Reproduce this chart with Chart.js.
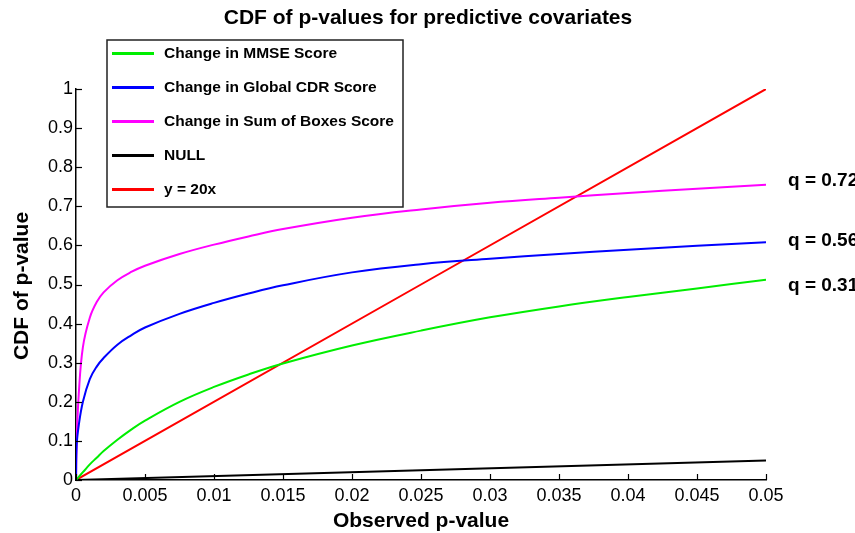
<!DOCTYPE html>
<html>
<head>
<meta charset="utf-8">
<script src="https://cdn.jsdelivr.net/npm/chart.js@4.4.1/dist/chart.umd.min.js"></script>
<style>
  body { margin: 0; background: #fff; }
  #wrap { width: 855px; height: 533px; position: relative; }
</style>
</head>
<body>
<div id="wrap"><canvas id="cdfChart"></canvas></div>
<script>
// p-value grid and CDF readings for each covariate
const pValues   = [0, 0.00005, 0.0002, 0.0005, 0.001, 0.0015, 0.002, 0.003, 0.004, 0.005, 0.0075, 0.01, 0.0125, 0.015, 0.02, 0.025, 0.03, 0.035, 0.04, 0.045, 0.05];
const mmse      = [0, 0.002, 0.008, 0.02, 0.04, 0.057, 0.074, 0.103, 0.129, 0.152, 0.2, 0.238, 0.27, 0.298, 0.344, 0.382, 0.416, 0.444, 0.468, 0.49, 0.512];
const globalCdr = [0, 0.09, 0.14, 0.2, 0.258, 0.29, 0.312, 0.346, 0.37, 0.39, 0.425, 0.453, 0.477, 0.498, 0.531, 0.552, 0.566, 0.578, 0.589, 0.599, 0.608];
const sumBoxes  = [0, 0.1, 0.22, 0.34, 0.415, 0.455, 0.48, 0.511, 0.532, 0.548, 0.578, 0.602, 0.623, 0.642, 0.671, 0.692, 0.709, 0.722, 0.734, 0.745, 0.755];
const nullX = [0, 0.05];
const nullY = [0, 0.05];
const refX  = [0, 0.05];
const refY  = [0, 1];

const seriesLabels = ["Change in MMSE Score", "Change in Global CDR Score", "Change in Sum of Boxes Score", "NULL", "y = 20x"];
const seriesColors = ["#00ee00", "#0000ff", "#ff00ff", "#000000", "#ff0000"];

const xTickValues = [0, 0.005, 0.01, 0.015, 0.02, 0.025, 0.03, 0.035, 0.04, 0.045, 0.05];
const xTickLabels = ["0", "0.005", "0.01", "0.015", "0.02", "0.025", "0.03", "0.035", "0.04", "0.045", "0.05"];
const yTickValues = [0, 0.1, 0.2, 0.3, 0.4, 0.5, 0.6, 0.7, 0.8, 0.9, 1];
const yTickLabels = ["0", "0.1", "0.2", "0.3", "0.4", "0.5", "0.6", "0.7", "0.8", "0.9", "1"];

// q-value notes at the right end of the curves
const qLabels = ["q = 0.72", "q = 0.56", "q = 0.31"];
const qY      = [0.766, 0.6125, 0.497];

const FONT = "'Liberation Sans', Arial, Helvetica, sans-serif";
Chart.defaults.font.family = FONT;

function toPoints(xs, ys) {
    return xs.map((x, i) => ({ x: x, y: ys[i] }));
}

let seriesData = [
    toPoints(pValues, mmse),
    toPoints(pValues, globalCdr),
    toPoints(pValues, sumBoxes),
    toPoints(nullX, nullY),
    toPoints(refX, refY)
];

let datasets = seriesData.map((pts, i) => ({
    label: seriesLabels[i],
    data: pts,
    borderColor: seriesColors[i],
    backgroundColor: seriesColors[i],
    borderWidth: 2,
    pointRadius: 0,
    tension: 0.4,
    fill: false
}));

// extra drawing: inward ticks, titles, boxed legend, q labels
const decorations = {
    id: "decorations",
    afterDraw(chart) {
        let ctx = chart.ctx;
        let area = chart.chartArea;
        let xs = chart.scales.x;
        let ys = chart.scales.y;
        ctx.save();

        ctx.strokeStyle = "#000";
        ctx.lineWidth = 1.2;
        xTickValues.forEach(v => {
            let px = Math.round(xs.getPixelForValue(v)) + 0.5;
            ctx.beginPath();
            ctx.moveTo(px, area.bottom);
            ctx.lineTo(px, area.bottom - 6);
            ctx.stroke();
        });
        yTickValues.forEach(v => {
            let py = Math.round(ys.getPixelForValue(v)) + 0.5;
            ctx.beginPath();
            ctx.moveTo(area.left, py);
            ctx.lineTo(area.left + 6, py);
            ctx.stroke();
        });

        ctx.fillStyle = "#000";
        ctx.textAlign = "center";
        ctx.textBaseline = "middle";
        ctx.font = "bold 21px " + FONT;
        ctx.fillText("CDF of p-values for predictive covariates", 428, 18);

        ctx.font = "bold 21px " + FONT;
        ctx.fillText("Observed p-value", 421, 521);
        ctx.save();
        ctx.translate(22, 286);
        ctx.rotate(-Math.PI / 2);
        ctx.fillText("CDF of p-value", 0, 0);
        ctx.restore();

        // legend box
        ctx.fillStyle = "#fff";
        ctx.fillRect(107, 40, 296, 167);
        ctx.strokeStyle = "#222";
        ctx.lineWidth = 1.5;
        ctx.strokeRect(107, 40, 296, 167);
        ctx.font = "bold 15.5px " + FONT;
        ctx.textAlign = "left";
        seriesLabels.forEach((lab, i) => {
            let y = 53.5 + i * 34;
            ctx.strokeStyle = seriesColors[i];
            ctx.lineWidth = 3;
            ctx.beginPath();
            ctx.moveTo(112, y);
            ctx.lineTo(154, y);
            ctx.stroke();
            ctx.fillStyle = "#000";
            ctx.fillText(lab, 164, y);
        });

        ctx.font = "bold 19px " + FONT;
        qLabels.forEach((lab, i) => {
            ctx.fillText(lab, area.right + 22, ys.getPixelForValue(qY[i]));
        });

        ctx.restore();
    }
};

new Chart(document.getElementById("cdfChart"), {
    type: "line",
    data: { datasets: datasets },
    options: {
        responsive: true,
        maintainAspectRatio: false,
        animation: false,
        layout: { padding: { left: 0, right: 89, top: 89, bottom: 0 } },
        plugins: {
            legend: { display: false },
            tooltip: { enabled: false },
            title: { display: false }
        },
        scales: {
            x: {
                type: "linear",
                min: 0,
                max: 0.05,
                grid: { display: false, drawTicks: false },
                border: { display: true, color: "#000", width: 1.5 },
                afterBuildTicks: scale => { scale.ticks = xTickValues.map(v => ({ value: v })); },
                afterFit: scale => { scale.height = 53; },
                ticks: {
                    color: "#000",
                    font: { size: 18 },
                    padding: 5,
                    maxRotation: 0,
                    autoSkip: false,
                    callback: (v, i) => xTickLabels[i]
                }
            },
            y: {
                min: 0,
                max: 1,
                grid: { display: false, drawTicks: false },
                border: { display: true, color: "#000", width: 1.5 },
                afterBuildTicks: scale => { scale.ticks = yTickValues.map(v => ({ value: v })); },
                afterFit: scale => { scale.width = 76; },
                ticks: {
                    color: "#000",
                    font: { size: 18 },
                    padding: 3,
                    autoSkip: false,
                    callback: (v, i) => yTickLabels[i]
                }
            }
        }
    },
    plugins: [decorations]
});
</script>
</body>
</html>
